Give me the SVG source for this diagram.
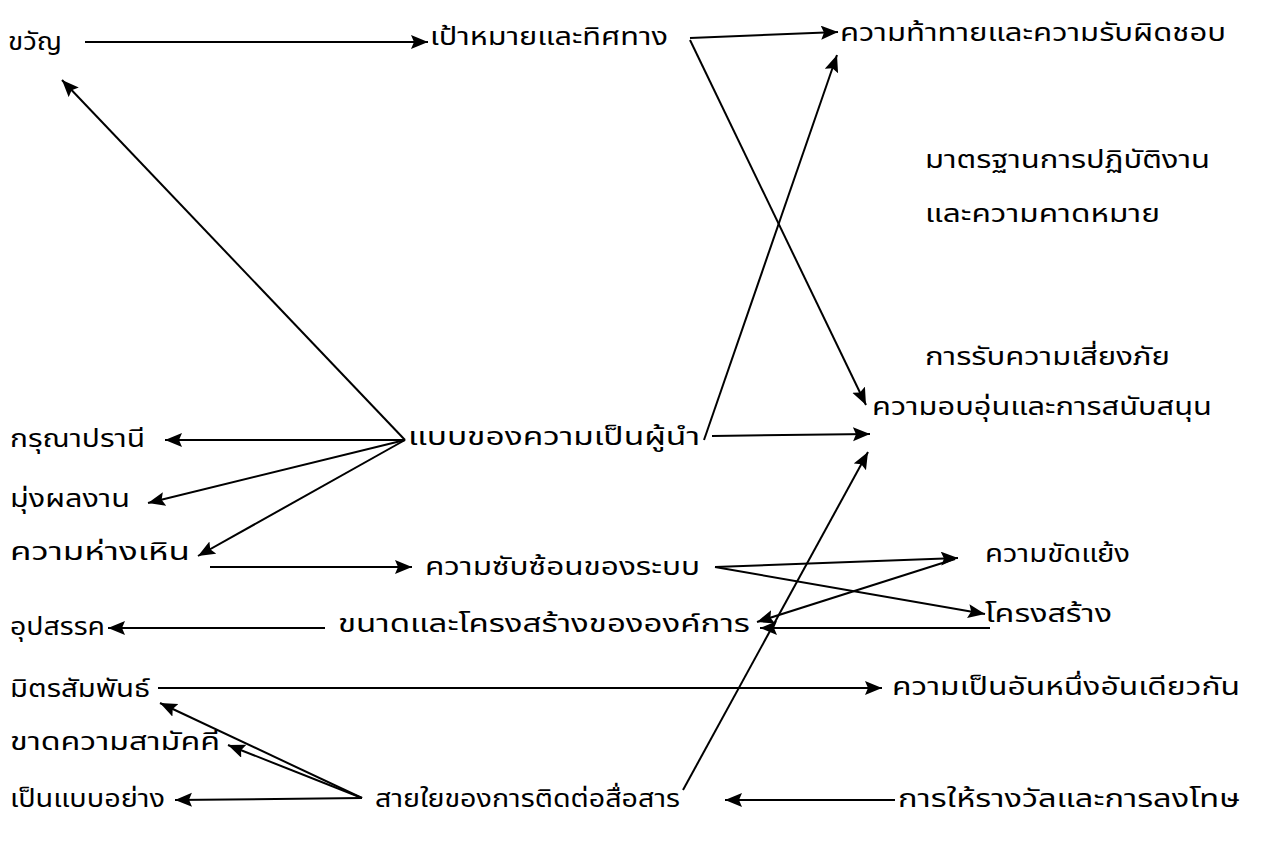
<svg xmlns="http://www.w3.org/2000/svg" width="1262" height="850" viewBox="0 0 1262 850">
<style>
.t{font-family:"Noto Sans Thai","Noto Sans","DejaVu Sans",sans-serif;font-size:24px;fill:#000}
.c{stroke:#000;stroke-width:2;fill:none;marker-end:url(#ah)}
</style>
<defs>
<marker id="ah" markerUnits="userSpaceOnUse" markerWidth="20" markerHeight="16" refX="17" refY="7" orient="auto">
<path d="M0,0 L17,7 L0,14 L3,7 z" fill="#000"/>
</marker>
</defs>
<rect width="1262" height="850" fill="#fff"/>
<g id="connectors">
<path class="c" d="M85,42 L428,42"/>
<path class="c" d="M690,38 L838,32"/>
<path class="c" d="M690,40 L866,405"/>
<path class="c" d="M704,440 L837,55"/>
<path class="c" d="M712,436 L870,434"/>
<path class="c" d="M405,440 L165,440"/>
<path class="c" d="M405,440 L148,503"/>
<path class="c" d="M405,440 L198,556"/>
<path class="c" d="M405,440 L62,80"/>
<path class="c" d="M210,567 L412,567"/>
<path class="c" d="M715,567 L958,558"/>
<path class="c" d="M715,567 L985,614"/>
<path class="c" d="M955,559 L757,622"/>
<path class="c" d="M990,628 L760,628"/>
<path class="c" d="M325,628 L108,628"/>
<path class="c" d="M158,688 L882,688"/>
<path class="c" d="M362,798 L160,703"/>
<path class="c" d="M362,798 L228,745"/>
<path class="c" d="M362,798 L175,800"/>
<path class="c" d="M683,790 L868,452"/>
<path class="c" d="M895,800 L725,800"/>
</g>
<g id="n1"><text class="t" x="8" y="50" textLength="54" lengthAdjust="spacingAndGlyphs">ขวัญ</text></g>
<g id="n2"><text class="t" x="430" y="45" textLength="238" lengthAdjust="spacingAndGlyphs">เป้าหมายและทิศทาง</text></g>
<g id="n3"><text class="t" x="840" y="41" textLength="386" lengthAdjust="spacingAndGlyphs">ความท้าทายและความรับผิดชอบ</text></g>
<g id="n4"><text class="t" x="925" y="168" textLength="285" lengthAdjust="spacingAndGlyphs">มาตรฐานการปฏิบัติงาน</text></g>
<g id="n5"><text class="t" x="925" y="222" textLength="235" lengthAdjust="spacingAndGlyphs">และความคาดหมาย</text></g>
<g id="n6"><text class="t" x="925" y="365" textLength="245" lengthAdjust="spacingAndGlyphs">การรับความเสี่ยงภัย</text></g>
<g id="n7"><text class="t" x="872" y="415" textLength="340" lengthAdjust="spacingAndGlyphs">ความอบอุ่นและการสนับสนุน</text></g>
<g id="n8"><text class="t" x="408" y="445" textLength="292" lengthAdjust="spacingAndGlyphs">แบบของความเป็นผู้นำ</text></g>
<g id="n9"><text class="t" x="10" y="447" textLength="135" lengthAdjust="spacingAndGlyphs">กรุณาปรานี</text></g>
<g id="n10"><text class="t" x="10" y="507" textLength="120" lengthAdjust="spacingAndGlyphs">มุ่งผลงาน</text></g>
<g id="n11"><text class="t" x="10" y="560" textLength="180" lengthAdjust="spacingAndGlyphs">ความห่างเหิน</text></g>
<g id="n12"><text class="t" x="425" y="575" textLength="275" lengthAdjust="spacingAndGlyphs">ความซับซ้อนของระบบ</text></g>
<g id="n13"><text class="t" x="985" y="562" textLength="145" lengthAdjust="spacingAndGlyphs">ความขัดแย้ง</text></g>
<g id="n14"><text class="t" x="985" y="622" textLength="127" lengthAdjust="spacingAndGlyphs">โครงสร้าง</text></g>
<g id="n15"><text class="t" x="338" y="632" textLength="412" lengthAdjust="spacingAndGlyphs">ขนาดและโครงสร้างขององค์การ</text></g>
<g id="n16"><text class="t" x="10" y="635" textLength="95" lengthAdjust="spacingAndGlyphs">อุปสรรค</text></g>
<g id="n17"><text class="t" x="10" y="697" textLength="140" lengthAdjust="spacingAndGlyphs">มิตรสัมพันธ์</text></g>
<g id="n18"><text class="t" x="892" y="695" textLength="348" lengthAdjust="spacingAndGlyphs">ความเป็นอันหนึ่งอันเดียวกัน</text></g>
<g id="n19"><text class="t" x="10" y="750" textLength="210" lengthAdjust="spacingAndGlyphs">ขาดความสามัคคี</text></g>
<g id="n20"><text class="t" x="10" y="807" textLength="155" lengthAdjust="spacingAndGlyphs">เป็นแบบอย่าง</text></g>
<g id="n21"><text class="t" x="375" y="807" textLength="305" lengthAdjust="spacingAndGlyphs">สายใยของการติดต่อสื่อสาร</text></g>
<g id="n22"><text class="t" x="898" y="807" textLength="342" lengthAdjust="spacingAndGlyphs">การให้รางวัลและการลงโทษ</text></g>
</svg>
